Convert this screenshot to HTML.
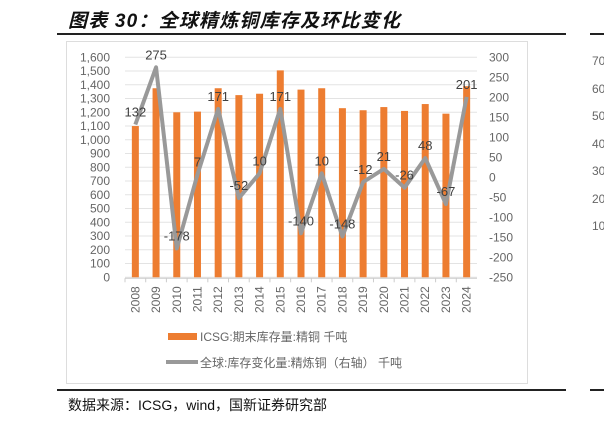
<!DOCTYPE html>
<html><head><meta charset="utf-8"><style>
body{margin:0;background:#fff;width:604px;height:423px;overflow:hidden;position:relative;font-family:"Liberation Sans","Noto Sans CJK SC",sans-serif}
.t{position:absolute}
</style></head><body>
<div class="t" style="left:68px;top:6px;font-size:19px;letter-spacing:1.2px;font-weight:bold;font-style:italic;color:#111;font-family:'Liberation Sans','Noto Sans CJK SC',sans-serif">图表 30：全球精炼铜库存及环比变化</div>
<div class="t" style="left:57px;top:33px;width:509px;height:1.5px;background:#222"></div>
<div class="t" style="left:66px;top:41px;width:460px;height:341px;border:1px solid #ddd"></div>
<div class="t" style="left:57px;top:389px;width:509px;height:1.5px;background:#222"></div>
<div class="t" style="left:68px;top:395px;font-size:14px;color:#111">数据来源：ICSG，wind，国新证券研究部</div>
<div class="t" style="left:590px;top:33px;width:14px;height:1.5px;background:#222"></div>
<div class="t" style="left:590px;top:389px;width:14px;height:1.5px;background:#222"></div>
<div class="t" style="left:592px;top:48px;font-size:12px;color:#666;line-height:27.5px">70<br>60<br>50<br>40<br>30<br>20<br>10</div>
<svg class="t" style="left:0;top:0" width="604" height="423" id="chart"></svg>
<script>
const years=["2008","2009","2010","2011","2012","2013","2014","2015","2016","2017","2018","2019","2020","2021","2022","2023","2024"];
const stock=[1100,1375,1200,1205,1375,1325,1335,1505,1365,1375,1230,1215,1238,1210,1260,1190,1390];
const change=[132,275,-178,7,171,-52,10,171,-140,10,-148,-12,21,-26,48,-67,201];
const leftTicks=[0,100,200,300,400,500,600,700,800,900,1000,1100,1200,1300,1400,1500,1600];
const rightTicks=[-250,-200,-150,-100,-50,0,50,100,150,200,250,300];
const svg=document.getElementById('chart');const NS='http://www.w3.org/2000/svg';
const X0=125,X1=477,YT=57.3,YB=277.3;
const step=(X1-X0)/years.length;
const xc=i=>X0+step*(i+0.5);
const yL=v=>YB-(v/1600)*(YB-YT);
const yR=v=>YB-((v+250)/550)*(YB-YT);
function mk(tag,attrs,name){const e=document.createElementNS(NS,tag);for(const k in attrs)e.setAttribute(k,attrs[k]);svg.appendChild(e);return e;}
leftTicks.forEach(v=>{
 mk('line',{x1:X0,x2:X1,y1:yL(v),y2:yL(v),stroke:'#e3e3e3','stroke-width':1},'gridline');
 const t=mk('text',{x:110,y:yL(v)+4,'text-anchor':'end','font-size':12,fill:'#666'},'left-tick-label');t.textContent=v.toLocaleString('en-US');
});
rightTicks.forEach(v=>{const t=mk('text',{x:489,y:yR(v)+4,'font-size':12,fill:'#666'},'right-tick-label');t.textContent=v;});
mk('line',{x1:X0,x2:X1,y1:YB+1,y2:YB+1,stroke:'#ccc'},'x-axis');
years.forEach((y,i)=>{
 mk('line',{x1:X0+step*i,x2:X0+step*i,y1:YB+1,y2:YB+5,stroke:'#ccc'},'x-tick');
 const h=stock[i];mk('rect',{x:xc(i)-3.5,y:yL(h),width:7,height:YB-yL(h),fill:'#ED7D31'},'bar-'+y);
 const t=mk('text',{x:0,y:0,'font-size':12,fill:'#666','text-anchor':'end',transform:`translate(${xc(i)+4},${YB+9}) rotate(-90)`},'x-tick-label');t.textContent=y;
});
mk('polyline',{points:change.map((v,i)=>xc(i)+','+yR(v)).join(' '),fill:'none',stroke:'#999','stroke-width':4,'stroke-linejoin':'round'},'change-line');
change.forEach((v,i)=>{const t=mk('text',{x:xc(i),y:yR(v)-8,'text-anchor':'middle','font-size':13,fill:'#404040'},'data-label');t.textContent=v;});
mk('rect',{x:168,y:333,width:29,height:7,fill:'#ED7D31'},'legend-swatch-bar');
let t=mk('text',{x:200,y:341,'font-size':12,fill:'#666'},'legend-entry-stock');t.textContent='ICSG:期末库存量:精铜 千吨';
mk('line',{x1:166,x2:198,y1:362,y2:362,stroke:'#999','stroke-width':4},'legend-swatch-line');
t=mk('text',{x:200,y:367,'font-size':12,fill:'#666'},'legend-entry-change');t.textContent='全球:库存变化量:精炼铜（右轴） 千吨';
</script>
</body></html>
